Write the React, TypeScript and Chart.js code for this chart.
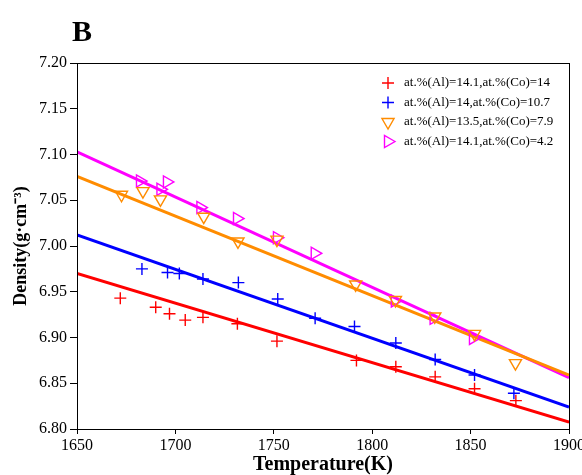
import React, { useEffect, useRef } from "react";
import { Chart, registerables } from "chart.js";

Chart.register(...registerables);

const xTicks = [1650, 1700, 1750, 1800, 1850, 1900];
const yTicks = [6.8, 6.85, 6.9, 6.95, 7.0, 7.05, 7.1, 7.15, 7.2];

const seriesLabels = [
  "at.%(Al)=14.1,at.%(Co)=14",
  "at.%(Al)=14,at.%(Co)=10.7",
  "at.%(Al)=13.5,at.%(Co)=7.9",
  "at.%(Al)=14.1,at.%(Co)=4.2",
];
const seriesColors = ["#ff0000", "#0000ff", "#ff8c00", "#ff00ff"];

// Measured points
const redT = [1672, 1690, 1697, 1705, 1714, 1731.5, 1751.6, 1792, 1812, 1832, 1852, 1873];
const redD = [6.943, 6.933, 6.926, 6.919, 6.922, 6.915, 6.896, 6.875, 6.868, 6.857, 6.844, 6.831];

const blueT = [1683, 1696, 1702, 1714, 1732, 1752, 1771, 1791, 1812, 1832, 1852, 1872];
const blueD = [6.975, 6.971, 6.97, 6.964, 6.96, 6.942, 6.921, 6.912, 6.894, 6.876, 6.859, 6.839];

const orangeT = [1672.6, 1683.5, 1692.4, 1714.4, 1731.8, 1751.6, 1791.6, 1811.8, 1831.8, 1852, 1872.8];
const orangeD = [7.056, 7.06, 7.051, 7.032, 7.005, 7.007, 6.958, 6.941, 6.923, 6.904, 6.872];

const magentaT = [1682, 1692.4, 1695.7, 1712.7, 1731.3, 1751.6, 1770.8, 1811.5, 1831.2, 1851.2];
const magentaD = [7.071, 7.062, 7.07, 7.042, 7.03, 7.009, 6.992, 6.94, 6.921, 6.899];

// Fit lines (endpoints)
const fitT = [1650, 1900];
const redFit = [6.97, 6.8075];
const blueFit = [7.012, 6.824];
const orangeFit = [7.076, 6.859];
const magentaFit = [7.103, 6.856];

const FONT = "'Liberation Serif', 'Times New Roman', serif";

const zip = (xs: number[], ys: number[]) => xs.map((x, i) => ({ x, y: ys[i] }));

function drawMarker(ctx: CanvasRenderingContext2D, kind: string, x: number, y: number, color: string) {
  ctx.save();
  ctx.strokeStyle = color;
  ctx.lineWidth = 1.4;
  ctx.beginPath();
  if (kind === "cross") {
    const r = 6;
    ctx.moveTo(x - r, y);
    ctx.lineTo(x + r, y);
    ctx.moveTo(x, y - r);
    ctx.lineTo(x, y + r);
  } else if (kind === "down") {
    const r = 7;
    ctx.moveTo(x, y + r);
    ctx.lineTo(x - r * 0.866, y - r * 0.5);
    ctx.lineTo(x + r * 0.866, y - r * 0.5);
    ctx.closePath();
  } else {
    const r = 7;
    ctx.moveTo(x + r, y);
    ctx.lineTo(x - r * 0.5, y - r * 0.866);
    ctx.lineTo(x - r * 0.5, y + r * 0.866);
    ctx.closePath();
  }
  ctx.stroke();
  ctx.restore();
}

const markerKinds = ["cross", "cross", "down", "right"];

const framePlugin = {
  id: "frameAndExtras",
  afterDraw(chart: any) {
    const { ctx, chartArea } = chart;
    const { left, right, top, bottom } = chartArea;
    ctx.save();
    ctx.strokeStyle = "#000";
    ctx.lineWidth = 1;
    ctx.strokeRect(left + 0.5, top + 0.5, right - left, bottom - top);
    // Panel label
    ctx.fillStyle = "#000";
    ctx.font = `bold 30px ${FONT}`;
    ctx.textAlign = "left";
    ctx.textBaseline = "alphabetic";
    ctx.fillText("B", left - 5, top - 22);
    // Legend
    ctx.font = `13px ${FONT}`;
    ctx.textBaseline = "middle";
    const mx = right - 181;
    const tx = right - 165;
    seriesLabels.forEach((lab, i) => {
      const y = top + 20 + i * 19.5;
      drawMarker(ctx, markerKinds[i], mx, y, seriesColors[i]);
      ctx.fillStyle = "#000";
      ctx.fillText(lab, tx, y);
    });
    ctx.restore();
  },
};

export default function App() {
  const ref = useRef<HTMLCanvasElement | null>(null);

  useEffect(() => {
    document.body.style.margin = "0";
    const canvas = ref.current;
    if (!canvas) return;

    const pointDs = (i: number, data: any[]) => ({
      label: seriesLabels[i],
      data,
      showLine: false,
      borderColor: seriesColors[i],
      backgroundColor: "transparent",
      pointBorderColor: seriesColors[i],
      pointBackgroundColor: "transparent",
      pointBorderWidth: 1.4,
      pointStyle: i < 2 ? "cross" : "triangle",
      rotation: i === 2 ? 180 : i === 3 ? 90 : 0,
      pointRadius: i < 2 ? 6 : 7,
      order: 1,
    });
    const lineDs = (i: number, ys: number[]) => ({
      label: "fit" + i,
      data: zip(fitT, ys),
      showLine: true,
      borderColor: seriesColors[i],
      borderWidth: 3,
      pointRadius: 0,
      fill: false,
      order: 2,
    });

    const chart = new Chart(canvas, {
      type: "scatter",
      data: {
        datasets: [
          lineDs(0, redFit),
          lineDs(1, blueFit),
          lineDs(2, orangeFit),
          lineDs(3, magentaFit),
          pointDs(0, zip(redT, redD)),
          pointDs(1, zip(blueT, blueD)),
          pointDs(2, zip(orangeT, orangeD)),
          pointDs(3, zip(magentaT, magentaD)),
        ] as any,
      },
      options: {
        animation: false,
        responsive: false,
        devicePixelRatio: 1,
        layout: { padding: { top: 63, right: 13, left: 0, bottom: 0 } },
        plugins: {
          legend: { display: false },
          tooltip: { enabled: false },
          title: { display: false },
        },
        scales: {
          x: {
            type: "linear",
            min: 1650,
            max: 1900,
            afterBuildTicks: (s: any) => {
              s.ticks = xTicks.map((v) => ({ value: v }));
            },
            afterFit: (s: any) => {
              s.height = 46;
              s.paddingLeft = 0;
              s.paddingRight = 0;
            },
            grid: { display: true, drawOnChartArea: false, drawTicks: true, tickLength: 5, color: "#000" },
            border: { display: true, color: "#000", width: 1 },
            ticks: {
              color: "#000",
              font: { family: FONT, size: 16 },
              padding: 2,
              maxRotation: 0,
              callback: (v: any) => String(v),
            },
            title: {
              display: true,
              text: "Temperature(K)",
              color: "#000",
              font: { family: FONT, size: 20, weight: "bold" },
              padding: { top: 0, bottom: -2 },
            },
          },
          y: {
            type: "linear",
            min: 6.8,
            max: 7.2,
            afterBuildTicks: (s: any) => {
              s.ticks = yTicks.map((v) => ({ value: v }));
            },
            afterFit: (s: any) => {
              s.width = 77;
            },
            grid: { display: true, drawOnChartArea: false, drawTicks: true, tickLength: 7, color: "#000" },
            border: { display: true, color: "#000", width: 1 },
            ticks: {
              color: "#000",
              font: { family: FONT, size: 16 },
              padding: 3,
              callback: (v: any) => Number(v).toFixed(2),
            },
            title: {
              display: true,
              text: "Density(g·cm⁻³)",
              color: "#000",
              font: { family: FONT, size: 18, weight: "bold" },
              padding: { top: 11, bottom: 0 },
            },
          },
        },
      },
      plugins: [framePlugin],
    });

    return () => {
      chart.destroy();
    };
  }, []);

  return (
    <div style={{ width: 582, height: 475 }}>
      <canvas ref={ref} width={582} height={475} style={{ display: "block" }} />
    </div>
  );
}
